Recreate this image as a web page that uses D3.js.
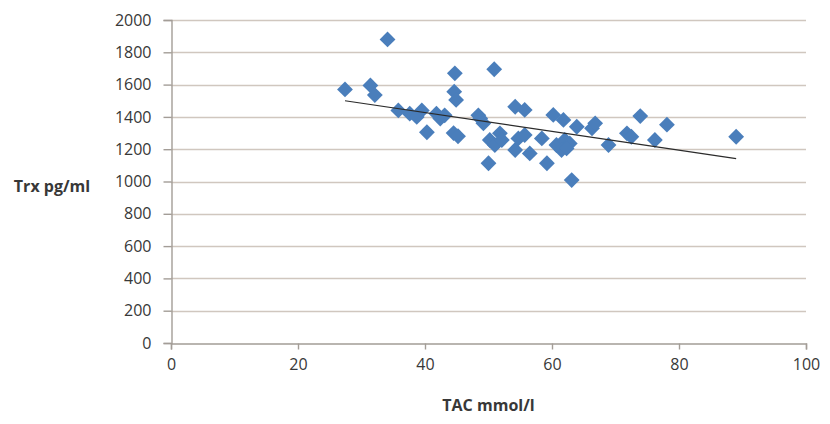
<!DOCTYPE html>
<html>
<head>
<meta charset="utf-8">
<script src="https://cdn.jsdelivr.net/npm/d3@7"></script>
<style>
  html, body { margin: 0; padding: 0; background: #ffffff; }
  svg { display: block; }
  text { font-family: "Open Sans", "Liberation Sans", sans-serif; fill: #383838; }
</style>
</head>
<body>
<svg id="chart" width="830" height="424"></svg>
<script>
// Total antioxidant capacity (mmol/l) per subject
const tac = [
  27.4, 31.4, 32.1, 34.1, 35.8, 37.6, 38.7, 39.5, 40.3, 41.8,
  42.4, 43.1, 44.5, 45.2, 44.6, 44.7, 44.9, 48.4, 48.7, 49.2,
  50.0, 50.2, 51.0, 51.8, 52.1, 50.9, 54.2, 55.7, 54.2, 54.7,
  55.7, 56.5, 58.4, 59.2, 60.2, 61.8, 63.9, 60.7, 62.0, 62.8,
  61.5, 62.3, 63.1, 66.3, 66.8, 68.9, 71.8, 72.5, 73.9, 76.2,
  78.1, 89.0
];
// Thioredoxin (pg/ml) for the same subjects
const trx = [
  1570, 1595, 1535, 1880, 1440, 1420, 1400, 1440, 1305, 1420,
  1390, 1410, 1300, 1280, 1556, 1670, 1505, 1410, 1390, 1360,
  1113, 1257, 1226, 1298, 1257, 1695, 1463, 1443, 1195, 1267,
  1288, 1174, 1267, 1113, 1412, 1381, 1339, 1226, 1257, 1236,
  1195, 1205, 1009, 1329, 1360, 1226, 1298, 1277, 1405, 1257,
  1352, 1277
];
// Linear trend line: trx = trendIntercept + trendSlope * tac
const trendIntercept = 1659;
const trendSlope = -5.81;

const xTicks = [0, 20, 40, 60, 80, 100];
const yTicks = [0, 200, 400, 600, 800, 1000, 1200, 1400, 1600, 1800, 2000];
const xTitle = "TAC mmol/l";
const yTitle = "Trx pg/ml";

const svg = d3.select("#chart");
const plot = { left: 171, right: 806, top: 20, bottom: 343 };

const x = d3.scaleLinear().domain([0, 100]).range([plot.left, plot.right]);
const y = d3.scaleLinear().domain([0, 2000]).range([plot.bottom, plot.top]);

const gridColor = "#d0c7bf";
const axisColor = "#a39d97";
const labelFont = "'Open Sans', sans-serif";

// Horizontal gridlines
svg.append("g")
  .selectAll("line")
  .data(yTicks.filter(v => v > 0))
  .join("line")
  .attr("x1", plot.left).attr("x2", plot.right)
  .attr("y1", d => Math.round(y(d)) + 0.5).attr("y2", d => Math.round(y(d)) + 0.5)
  .attr("stroke", gridColor).attr("stroke-width", 1.4);

// Y axis
const yAxis = svg.append("g")
  .attr("transform", `translate(${plot.left + 0.5},0)`)
  .call(d3.axisLeft(y).tickValues(yTicks).tickSize(8).tickPadding(12).tickFormat(d3.format("d")));
yAxis.select(".domain").attr("stroke", axisColor).attr("stroke-width", 1.4);
yAxis.selectAll(".tick line").attr("stroke", axisColor).attr("stroke-width", 1.4);
yAxis.selectAll(".tick text")
  .attr("font-family", labelFont)
  .attr("font-size", 16).attr("fill", "#383838");

// X axis
const xAxis = svg.append("g")
  .attr("transform", `translate(0,${Math.round(plot.bottom) + 0.5})`)
  .call(d3.axisBottom(x).tickValues(xTicks).tickSize(6).tickPadding(9).tickFormat(d3.format("d")));
xAxis.select(".domain").attr("stroke", axisColor).attr("stroke-width", 1.4);
xAxis.selectAll(".tick line").attr("stroke", axisColor).attr("stroke-width", 1.4);
xAxis.selectAll(".tick text")
  .attr("font-family", labelFont)
  .attr("font-size", 16).attr("fill", "#383838");

// Data points as diamonds
const diamond = d3.symbol().type(d3.symbolSquare).size(125);
svg.append("g")
  .selectAll("path")
  .data(tac.map((t, i) => ({ t, v: trx[i] })))
  .join("path")
  .attr("d", diamond)
  .attr("transform", d => `translate(${x(d.t)},${y(d.v)}) rotate(45)`)
  .attr("fill", "#4a7ebb");

// Trend line across the data range
const [tMin, tMax] = d3.extent(tac);
svg.append("line")
  .attr("x1", x(tMin)).attr("y1", y(trendIntercept + trendSlope * tMin))
  .attr("x2", x(tMax)).attr("y2", y(trendIntercept + trendSlope * tMax))
  .attr("stroke", "#2b2b2b").attr("stroke-width", 1.2);

// Axis titles
svg.append("text")
  .attr("x", 52).attr("y", 192)
  .attr("text-anchor", "middle")
  .attr("font-size", 16).attr("font-weight", "bold")
  .text(yTitle);

svg.append("text")
  .attr("x", (plot.left + plot.right) / 2).attr("y", 411)
  .attr("text-anchor", "middle")
  .attr("font-size", 16).attr("font-weight", "bold")
  .text(xTitle);
</script>
</body>
</html>
